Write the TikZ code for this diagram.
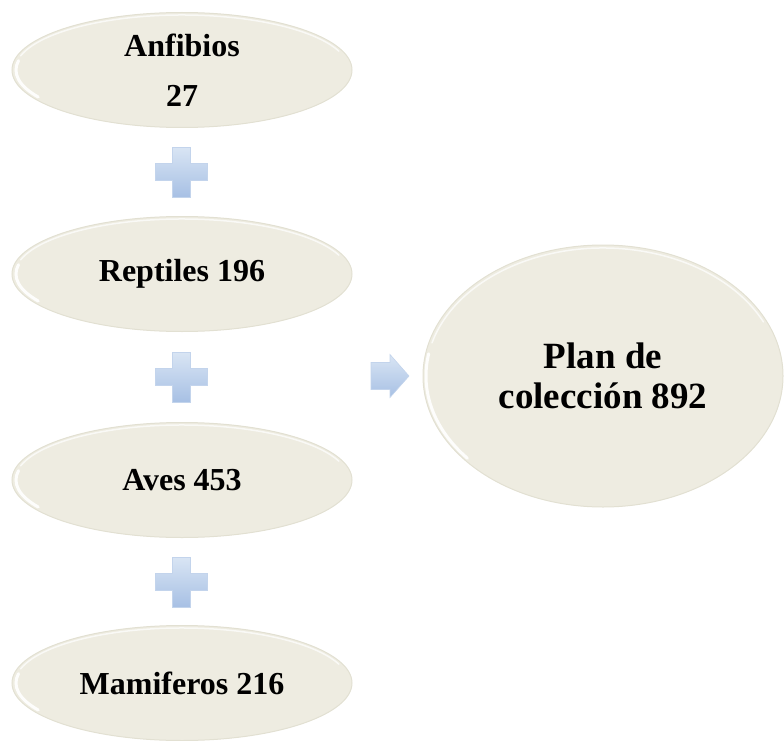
\documentclass[tikz,border=0pt]{standalone}
\usepackage{fontspec}
\setmainfont{Liberation Serif}
\usetikzlibrary{shapes.geometric}
\definecolor{bubblefill}{HTML}{EEECE1}
\definecolor{bubbleedge}{HTML}{E2E0D2}
\definecolor{signtop}{HTML}{D9E5F4}
\definecolor{signbottom}{HTML}{A7C0E4}
\definecolor{signedge}{HTML}{C3D4EC}
\tikzset{
  plussign/.pic={
    \shade[top color=signtop, bottom color=signbottom, draw=signedge, line width=0.6pt]
      (-26,-8.5) -- (-9,-8.5) -- (-9,-25) -- (9,-25) -- (9,-8.5) -- (26,-8.5)
      -- (26,8.5) -- (9,8.5) -- (9,25) -- (-9,25) -- (-9,8.5) -- (-26,8.5) -- cycle;
  },
  arrowsign/.pic={
    \shade[top color=signtop, bottom color=signbottom, draw=signedge, line width=0.6pt]
      (-19,-13.5) -- (0,-13.5) -- (0,-21.5) -- (19,0) -- (0,21.5) -- (0,13.5)
      -- (-19,13.5) -- cycle;
  }
}
\begin{document}
\begin{tikzpicture}[
  x=1pt, y=-1pt,
  bubble/.style={ellipse, fill=bubblefill, draw=bubbleedge, line width=1pt,
                 inner sep=0pt, align=center,
                 font=\fontsize{32}{50}\selectfont\bfseries},
  group/.style={bubble, minimum width=340pt, minimum height=115pt},
  total/.style={bubble, minimum width=360pt, minimum height=262pt,
                font=\fontsize{37}{40}\selectfont\bfseries},
  gleam/.style={white, line width=1.5pt, line cap=round, opacity=0.7},
  crescent/.style={white, line width=3pt, line cap=round, opacity=0.9}
]
  \useasboundingbox (0,0) rectangle (784,741);

  \node[group] (anfibios)  at (182,70)  {Anfibios\\27};
  \node[group] (reptiles)  at (182,274) {Reptiles 196};
  \node[group] (aves)      at (182,480) {Aves 453};
  \node[group] (mamiferos) at (182,683) {Mamiferos 216};
  \node[total] (plan)      at (603,376) {Plan de\\colección 892};

  % highlights on the rims
  \foreach \n in {anfibios,reptiles,aves,mamiferos} {
    \draw[crescent] (\n.center) ++(150:166 and 54)
      arc[start angle=150, end angle=190, x radius=166, y radius=54];
    \draw[gleam] (\n.center) ++(195:167 and 55)
      arc[start angle=195, end angle=340, x radius=167, y radius=55];
  }
  \draw[crescent] (plan.center) ++(140:177 and 128)
    arc[start angle=140, end angle=190, x radius=177, y radius=128];
  \draw[gleam] (plan.center) ++(195:177 and 128)
    arc[start angle=195, end angle=335, x radius=177, y radius=128];

  % signs between the groups
  \pic at (181,172) {plussign};
  \pic at (181,377) {plussign};
  \pic at (181,582) {plussign};
  \pic at (390,376) {arrowsign};
\end{tikzpicture}
\end{document}
